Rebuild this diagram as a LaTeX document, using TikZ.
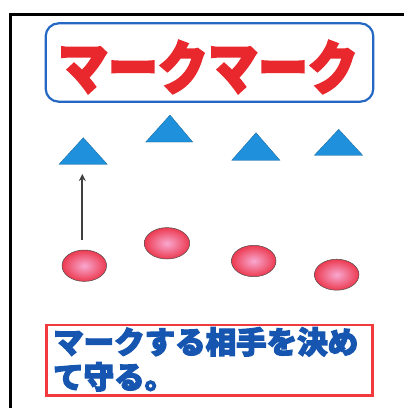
\documentclass[tikz,border=0pt]{standalone}
\usepackage{fontspec}
\newfontfamily\cjk{Noto Sans CJK JP}
\newfontfamily\cjkb{Noto Sans CJK JP}[FakeBold=4]
\usetikzlibrary{arrows.meta}
\definecolor{frameblue}{HTML}{2468C4}
\definecolor{trib}{HTML}{1E90DC}
\definecolor{titlered}{HTML}{E8282C}
\definecolor{boxred}{HTML}{F03A3E}
\definecolor{txtblue}{HTML}{1656B0}
\definecolor{ellred}{HTML}{EC3A50}
\definecolor{ellpink}{HTML}{F8A8D0}
\tikzset{
  tri/.style={fill=trib, draw=trib!70!black, line width=0.3pt},
  ell/.style={draw=black!70, line width=0.5pt, inner color=ellpink, outer color=ellred},
}
\begin{document}
\begin{tikzpicture}[x=1pt,y=-1pt]
\useasboundingbox (0,0) rectangle (404,408);
\fill[white] (0,0) rectangle (404,408);
% outer frame
\draw[line width=3.5pt] (10.5,408) coordinate (fbl) -- (10.5,14.5) coordinate (ftl) -- (404,14.5) coordinate (ftr);
% title box
\draw[frameblue, line width=2.2pt, rounded corners=13pt] (45.7,23.3) rectangle (373.3,101.7);
\node[titlered, font=\cjkb\bfseries\fontsize{50}{50}\selectfont, inner sep=0pt, yscale=1.15] (title) at (208,67) {マークマーク};
% triangles
\filldraw[tri] (59,164.3) -- (83.3,137.7) -- (107.3,164.3) -- cycle;
\filldraw[tri] (145.7,142) -- (170,115) -- (192.7,142) -- cycle;
\filldraw[tri] (231.7,160.3) -- (256,132.7) -- (280,160.3) -- cycle;
\filldraw[tri] (314.3,155.3) -- (338.7,129.3) -- (362.7,155.3) -- cycle;
\coordinate (t1) at (82.3,174);
% ellipses
\draw[ell] (84.3,265.7) ellipse [x radius=22.3, y radius=15.7];
\draw[ell] (167,243.3) ellipse [x radius=22.7, y radius=15.7];
\draw[ell] (253.7,261) ellipse [x radius=22.3, y radius=15.7];
\draw[ell] (336.7,274.7) ellipse [x radius=22.3, y radius=15.5];
\coordinate (e1) at (82.3,240);
\draw[black!75, line width=2pt, -{Stealth[length=7pt,width=7pt]}] (e1) -- (t1);
% bottom box
\draw[boxred, line width=2.8pt] (46.7,325) rectangle (372.3,395.7);
\node[txtblue, font=\cjkb\bfseries\fontsize{30.5}{35}\selectfont, align=left, anchor=north west, inner sep=0pt] (txt) at (53,327) {マークする相手を決め\\て守る。};
\end{tikzpicture}
\end{document}
